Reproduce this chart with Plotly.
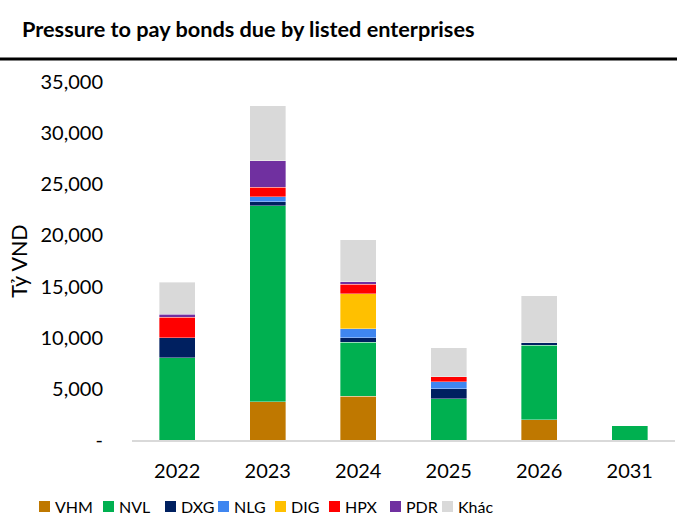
import plotly.graph_objects as go

years = ["2022", "2023", "2024", "2025", "2026", "2031"]
series_names = ["VHM", "NVL", "DXG", "NLG", "DIG", "HPX", "PDR", "Khác"]
VHM = [0, 3750, 4300, 0, 2000, 0]
NVL = [8050, 19150, 5250, 4050, 7250, 1400]
DXG = [1950, 400, 450, 950, 270, 0]
NLG = [0, 460, 860, 680, 0, 0]
DIG = [0, 0, 3450, 0, 0, 0]
HPX = [2000, 950, 920, 490, 0, 0]
PDR = [300, 2580, 250, 0, 0, 0]
KHAC = [3100, 5380, 4080, 2840, 4600, 0]
series_values = [VHM, NVL, DXG, NLG, DIG, HPX, PDR, KHAC]
colors = ["#BF7800", "#00B050", "#002060", "#3F86F0", "#FFC000", "#FF0000", "#7030A0", "#D9D9D9"]

tick_vals = [0, 5000, 10000, 15000, 20000, 25000, 30000, 35000]
tick_text = ["-", "5,000", "10,000", "15,000", "20,000", "25,000", "30,000", "35,000"]

# legend swatch left edges (pixels) as laid out in the reference
legend_px = [39, 103, 165, 218, 275, 329, 390, 442]

FONT = "Lato, 'Open Sans', sans-serif"

fig = go.Figure()
for name, vals, c in zip(series_names, series_values, colors):
    fig.add_trace(go.Bar(
        x=years, y=vals, name=name, showlegend=False,
        marker=dict(color=c, line=dict(color="rgba(255,255,255,0.6)", width=0.6)),
    ))

W, H = 677, 528
L, R, T, B = 132, 2, 82, 88
pw = W - L - R
ph = H - T - B
base = H - B  # pixel row of the x axis


def px_x(p):
    return (p - L) / pw


def px_y(p):
    return (base - p) / ph


fig.update_layout(
    width=W, height=H,
    barmode="stack", bargap=0.6,
    plot_bgcolor="white", paper_bgcolor="white",
    margin=dict(l=L, r=R, t=T, b=B, autoexpand=False),
    font=dict(family=FONT, size=20, color="#000000"),
    title=dict(text="<b>Pressure to pay bonds due by listed enterprises</b>",
               x=22 / W, xanchor="left", y=1 - 29 / H, yanchor="middle",
               font=dict(family=FONT, size=21.7, color="#000000")),
    xaxis=dict(showgrid=False, showline=True, linecolor="#D9D9D9", linewidth=1.5,
               ticks="", tickfont=dict(size=20), ticklabelstandoff=12),
    yaxis=dict(range=[0, 35000], tickvals=tick_vals, ticktext=tick_text,
               showgrid=False, zeroline=False, showline=False, ticks="",
               tickfont=dict(size=20), ticklabelstandoff=28,
               title=dict(text="Tỷ VND", font=dict(size=21.5), standoff=6)),
    showlegend=False,
    hovermode=False,
)

# title underline
fig.add_shape(type="line", xref="paper", yref="paper",
              x0=px_x(0), x1=px_x(W), y0=px_y(59), y1=px_y(59),
              line=dict(color="black", width=3))

# legend
for name, c, lx in zip(series_names, colors, legend_px):
    fig.add_shape(type="rect", xref="paper", yref="paper",
                  x0=px_x(lx), x1=px_x(lx + 11), y0=px_y(501), y1=px_y(512),
                  fillcolor=c, line=dict(width=0))
    fig.add_annotation(text=name, xref="paper", yref="paper",
                       x=px_x(lx + 14), y=px_y(506.5), xanchor="left", yanchor="middle",
                       showarrow=False, font=dict(family=FONT, size=16, color="#000000"))

fig.write_html("out.html", config={"displayModeBar": False},
               post_script="document.body.style.margin='0';")
